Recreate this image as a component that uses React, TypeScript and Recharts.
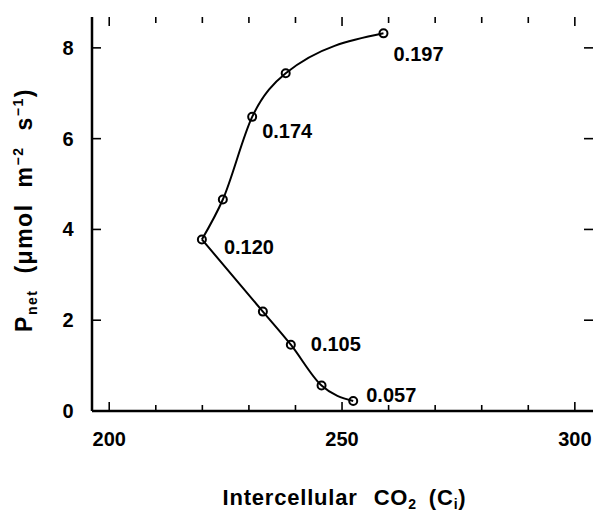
import React from 'react';
import { ScatterChart, Scatter, XAxis, YAxis } from 'recharts';

// Intercellular CO2 (Ci) and net photosynthesis
const CI = [258.9, 237.9, 230.7, 224.4, 219.9, 233.0, 239.0, 245.6, 252.4];
const PNET = [8.32, 7.44, 6.48, 4.66, 3.78, 2.19, 1.46, 0.56, 0.22];
const TAGS = ['0.197', '', '0.174', '', '0.120', '', '0.105', '', '0.057'];

// point order for the two branches of the fitted curve
const UPPER = [4, 3, 2, 1, 0];
const LOWER = [4, 5, 6, 7, 8];

const X_TICKS = [200, 210, 220, 230, 240, 250, 260, 270, 280, 290, 300];
const X_LABELS = [200, 250, 300];
const Y_TICKS = [0, 2, 4, 6, 8];

const points = CI.map((ci, i) => ({ ci, pnet: PNET[i], tag: TAGS[i] }));
const upperBranch = UPPER.map((i) => points[i]);
const lowerBranch = LOWER.map((i) => points[i]);

const FONT = '"Liberation Sans", Arial, Helvetica, sans-serif';
const INK = '#000';

const W = 595;
const H = 511;
const MARGIN = { top: 17, right: 2, bottom: 0, left: 0 };
const Y_AXIS_W = 92;
const X_AXIS_H = 100;
const PLOT_W = W - MARGIN.left - MARGIN.right - Y_AXIS_W;
const PLOT_H = H - MARGIN.top - MARGIN.bottom - X_AXIS_H;

// where each tag sits relative to its point (text start, baseline)
const TAG_NUDGE: Record<string, [number, number]> = {
  '0.197': [10, 28],
  '0.174': [10, 21],
  '0.120': [22, 15],
  '0.105': [20, 6],
  '0.057': [13, 1],
};

// bottom ticks point inward, and are mirrored on the top edge of the frame
const BottomTick = ({ x, y, payload }: any) => {
  const len = X_LABELS.includes(payload.value) ? 9 : 6;
  const top = y - PLOT_H;
  return (
    <g>
      <line x1={x} x2={x} y1={y} y2={y - len} stroke={INK} strokeWidth={1.6} />
      <line x1={x} x2={x} y1={top} y2={top + len} stroke={INK} strokeWidth={1.6} />
      {len === 9 && (
        <text x={x} y={y + 35} textAnchor="middle" fontSize={20} fontWeight="bold" fontFamily={FONT} fill={INK}>
          {payload.value}
        </text>
      )}
    </g>
  );
};

const LeftTick = ({ x, y, payload }: any) => {
  const right = x + PLOT_W;
  return (
    <g>
      <line x1={x} x2={x + 9} y1={y} y2={y} stroke={INK} strokeWidth={1.6} />
      <line x1={right} x2={right - 9} y1={y} y2={y} stroke={INK} strokeWidth={1.6} />
      <text x={x - 18.5} y={y + 7} textAnchor="end" fontSize={20} fontWeight="bold" fontFamily={FONT} fill={INK}>
        {payload.value}
      </text>
    </g>
  );
};

const XTitle = (props: any) => {
  const vb = props.viewBox || { x: Y_AXIS_W, y: MARGIN.top + PLOT_H, width: PLOT_W, height: X_AXIS_H };
  const cx = vb.x + vb.width / 2 + 2;
  const by = vb.y + 94;
  return (
    <text
      x={cx}
      y={by}
      textAnchor="middle"
      fontSize={22}
      fontWeight="bold"
      fontFamily={FONT}
      letterSpacing={0.8}
      fill={INK}
    >
      <tspan>Intercellular</tspan>
      <tspan dx={16}>CO</tspan>
      <tspan dy={4} fontSize={14}>2</tspan>
      <tspan dx={12} dy={-4}>(C</tspan>
      <tspan dy={4} fontSize={14}>i</tspan>
      <tspan dy={-4}>)</tspan>
    </text>
  );
};

const YTitle = (props: any) => {
  const vb = props.viewBox || { x: 0, y: MARGIN.top, width: Y_AXIS_W, height: PLOT_H };
  const bx = vb.x + 32;
  const cy = vb.y + vb.height / 2 - 4;
  return (
    <text
      x={bx}
      y={cy}
      transform={`rotate(-90, ${bx}, ${cy})`}
      textAnchor="middle"
      fontSize={23}
      fontWeight="bold"
      fontFamily={FONT}
      letterSpacing={1.5}
      fill={INK}
    >
      <tspan>P</tspan>
      <tspan dy={5} fontSize={14}>net</tspan>
      <tspan dx={16} dy={-5}>(μmol</tspan>
      <tspan dx={16}>m</tspan>
      <tspan dy={-9} fontSize={14}>−2</tspan>
      <tspan dx={16} dy={9}>s</tspan>
      <tspan dy={-9} fontSize={14}>−1</tspan>
      <tspan dy={9}>)</tspan>
    </text>
  );
};

const Marker = (props: any) => {
  const { cx, cy, payload } = props;
  const tag: string = payload?.tag || '';
  const nudge = TAG_NUDGE[tag];
  return (
    <g>
      <circle cx={cx} cy={cy} r={4} fill="none" stroke={INK} strokeWidth={2} />
      {tag && nudge && (
        <text x={cx + nudge[0]} y={cy + nudge[1]} fontSize={20} fontWeight="bold" fontFamily={FONT} fill={INK}>
          {tag}
        </text>
      )}
    </g>
  );
};

const NoMarker = () => <g />;

export default function App() {
  return (
    <div style={{ width: W, height: H, background: '#fff' }}>
      <style>{'body { margin: 0; }'}</style>
      <ScatterChart width={W} height={H} margin={MARGIN}>
        <XAxis
          xAxisId="bottom"
          type="number"
          dataKey="ci"
          domain={[196.3, 303.9]}
          allowDataOverflow
          ticks={X_TICKS}
          interval={0}
          height={X_AXIS_H}
          tickSize={0}
          tickMargin={0}
          tickLine={false}
          tick={BottomTick}
          axisLine={{ stroke: INK, strokeWidth: 2.5 }}
          label={{ content: XTitle }}
        />
        <XAxis
          xAxisId="top"
          orientation="top"
          type="number"
          dataKey="ci"
          domain={[196.3, 303.9]}
          allowDataOverflow
          height={0}
          tickLine={false}
          tick={false}
          axisLine={{ stroke: INK, strokeWidth: 2.5 }}
        />
        <YAxis
          yAxisId="left"
          type="number"
          dataKey="pnet"
          domain={[0, 8.68]}
          allowDataOverflow
          ticks={Y_TICKS}
          interval={0}
          width={Y_AXIS_W}
          tickSize={0}
          tickMargin={0}
          tickLine={false}
          tick={LeftTick}
          axisLine={{ stroke: INK, strokeWidth: 2.5 }}
          label={{ content: YTitle }}
        />
        <YAxis
          yAxisId="right"
          orientation="right"
          type="number"
          dataKey="pnet"
          domain={[0, 8.68]}
          allowDataOverflow
          width={0}
          tickLine={false}
          tick={false}
          axisLine={{ stroke: INK, strokeWidth: 2.5 }}
        />
        {/* invisible series so the top/right frame axes get drawn */}
        <Scatter xAxisId="top" yAxisId="right" data={points} shape={NoMarker} isAnimationActive={false} />
        <Scatter
          xAxisId="bottom"
          yAxisId="left"
          data={upperBranch}
          line={{ stroke: INK, strokeWidth: 2 }}
          lineJointType="monotoneX"
          shape={NoMarker}
          isAnimationActive={false}
        />
        <Scatter
          xAxisId="bottom"
          yAxisId="left"
          data={lowerBranch}
          line={{ stroke: INK, strokeWidth: 2 }}
          lineJointType="monotoneX"
          shape={NoMarker}
          isAnimationActive={false}
        />
        <Scatter
          xAxisId="bottom"
          yAxisId="left"
          data={points}
          shape={Marker}
          isAnimationActive={false}
        />
      </ScatterChart>
    </div>
  );
}
